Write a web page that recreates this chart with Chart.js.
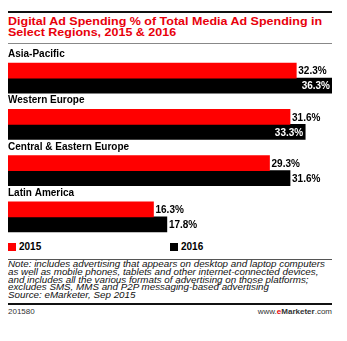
<!DOCTYPE html>
<html>
<head>
<meta charset="utf-8">
<script src="https://cdn.jsdelivr.net/npm/chart.js@4"></script>
<style>
  body { margin: 0; background: #fff; width: 347px; height: 341px; position: relative; overflow: hidden; font-family: 'Liberation Sans', Arial, sans-serif; }
  .abs { position: absolute; }
  #title { left: 8px; top: 16px; color: #e8000b; font-weight: bold; font-size: 12.5px; line-height: 12.3px; transform: scaleY(0.92); transform-origin: 0 0; white-space: nowrap; }
  .legend { top: 242px; font-weight: bold; font-size: 10px; line-height: 10px; }
  .legend i { display: inline-block; width: 8px; height: 8px; vertical-align: -1px; margin-right: 3px; }
  #note { left: 8px; top: 261px; font-style: italic; font-size: 9.8px; line-height: 8.8px; color: #111; transform: scaleY(0.88); transform-origin: 0 0; white-space: nowrap; }
  #foot { left: 8px; right: 15px; top: 307px; font-size: 8px; color: #333; }
</style>
</head>
<body>
<div class="abs" style="left:8px;top:11px;width:324px;height:2px;background:#111"></div>
<div id="title" class="abs">Digital Ad Spending % of Total Media Ad Spending in<br>Select Regions, 2015 &amp; 2016</div>
<div class="abs" style="left:8px;top:43px;width:324px;height:1px;background:#888"></div>
<div class="abs" style="left:0;top:44px;width:347px;height:196px"><canvas id="myChart"></canvas></div>
<div class="abs legend" style="left:8px"><i style="background:#f00"></i>2015</div>
<div class="abs legend" style="left:170px"><i style="background:#000"></i>2016</div>
<div class="abs" style="left:8px;top:259px;width:324px;height:1px;background:#555"></div>
<div id="note" class="abs">Note: includes advertising that appears on desktop and laptop computers<br>as well as mobile phones, tablets and other internet-connected devices,<br>and includes all the various formats of advertising on those platforms;<br>excludes SMS, MMS and P2P messaging-based advertising<br>Source: eMarketer, Sep 2015</div>
<div class="abs" style="left:8px;top:303px;width:324px;height:2px;background:#111"></div>
<div id="foot" class="abs"><span>201580</span><span style="float:right">www.<b style="color:#e8000b">e</b><b>Marketer</b>.com</span></div>
<script>
const regions = ['Asia-Pacific', 'Western Europe', 'Central & Eastern Europe', 'Latin America'];
const values2015 = [32.3, 31.6, 29.3, 16.3];
const values2016 = [36.3, 33.3, 31.6, 17.8];

// region names above each pair of bars + value labels at bar ends
const labelPlugin = {
    id: 'labels',
    afterDatasetsDraw(chart) {
        const ctx = chart.ctx;
        const area = chart.chartArea;
        ctx.save();
        ctx.font = 'bold 10px "Liberation Sans", Arial, sans-serif';
        ctx.textBaseline = 'alphabetic';
        const first = chart.getDatasetMeta(0).data;
        first.forEach((bar, i) => {
            ctx.fillStyle = '#000';
            ctx.textAlign = 'left';
            ctx.fillText(regions[i], area.left, bar.y - bar.height / 2 - 6);
        });
        ctx.textBaseline = 'middle';
        chart.data.datasets.forEach((ds, d) => {
            chart.getDatasetMeta(d).data.forEach((bar, i) => {
                const txt = ds.data[i].toFixed(1) + '%';
                const w = ctx.measureText(txt).width;
                if (bar.x + 2 + w > area.right) {
                    ctx.fillStyle = '#fff';
                    ctx.textAlign = 'right';
                    ctx.fillText(txt, bar.x - 2, bar.y + 1);
                } else {
                    ctx.fillStyle = '#000';
                    ctx.textAlign = 'left';
                    ctx.fillText(txt, bar.x + 2, bar.y + 1);
                }
            });
        });
        ctx.restore();
    }
};

new Chart(document.getElementById('myChart'), {
    type: 'bar',
    data: {
        labels: regions,
        datasets: [
            { label: '2015', data: values2015, backgroundColor: '#f00' },
            { label: '2016', data: values2016, backgroundColor: '#000' }
        ]
    },
    options: {
        indexAxis: 'y',
        responsive: true,
        maintainAspectRatio: false,
        animation: false,
        barThickness: 15,
        layout: { padding: { left: 8, right: 15, top: 11, bottom: 0 } },
        scales: {
            x: { min: 0, max: 36.3, display: false },
            y: { display: false }
        },
        plugins: { legend: { display: false }, tooltip: { enabled: false } }
    },
    plugins: [labelPlugin]
});
</script>
</body>
</html>
